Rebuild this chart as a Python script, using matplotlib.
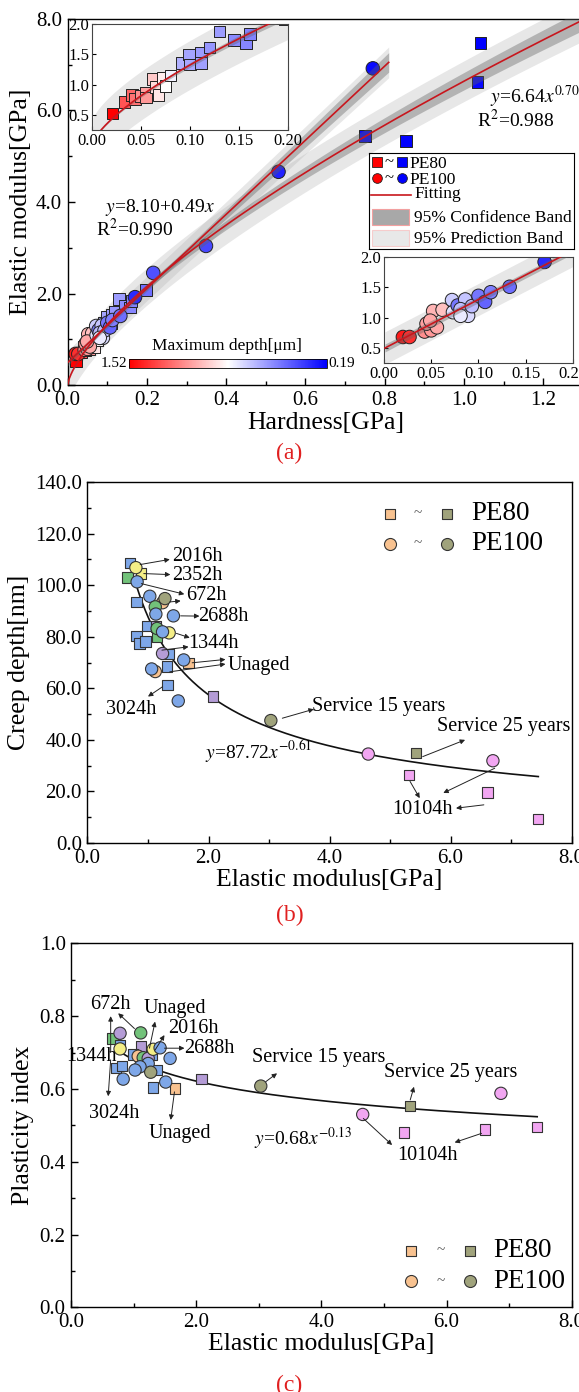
import numpy as np
import matplotlib
matplotlib.use("Agg")
import matplotlib.pyplot as plt
from matplotlib.colors import Normalize
from matplotlib.cm import ScalarMappable
from matplotlib.patches import Rectangle
from matplotlib.ticker import MultipleLocator, FormatStrFormatter

plt.rcParams['font.family'] = ['Liberation Serif', 'DejaVu Serif']
plt.rcParams['mathtext.fontset'] = 'stix'
plt.rcParams['axes.linewidth'] = 1.0

# (a) hardness / elastic modulus, coloured by maximum depth [um]
pe80_hard = [0.021, 0.033, 0.041, 0.044, 0.050, 0.055, 0.055, 0.062, 0.065, 0.068,
             0.072, 0.075, 0.080, 0.092, 0.099, 0.100, 0.111, 0.111, 0.120, 0.130,
             0.145, 0.157, 0.161, 0.197, 0.750, 0.853, 1.034, 1.042]
pe80_mod = [0.52, 0.71, 0.83, 0.76, 0.81, 0.86, 0.79, 1.09, 0.96, 0.83,
            1.11, 0.98, 1.15, 1.36, 1.50, 1.33, 1.53, 1.36, 1.61, 1.88,
            1.74, 1.69, 1.84, 2.08, 5.44, 5.33, 6.62, 7.47]
pe80_depth = [1.52, 1.30, 1.25, 1.22, 1.15, 1.10, 1.12, 1.00, 0.95, 0.92,
              0.90, 0.86, 0.82, 0.65, 0.62, 0.63, 0.60, 0.61, 0.58, 0.60,
              0.55, 0.54, 0.53, 0.48, 0.22, 0.20, 0.21, 0.19]

pe100_hard = [0.020, 0.027, 0.043, 0.050, 0.045, 0.052, 0.062, 0.056, 0.049, 0.072,
              0.073, 0.078, 0.086, 0.081, 0.089, 0.093, 0.100, 0.107, 0.113, 0.133,
              0.081, 0.170, 0.216, 0.349, 0.532, 0.770]
pe100_mod = [0.68, 0.68, 0.77, 0.79, 0.90, 1.11, 1.13, 0.84, 0.95, 1.29,
             1.09, 1.20, 1.30, 1.14, 1.03, 1.19, 1.36, 1.26, 1.42, 1.51,
             1.03, 1.92, 2.45, 3.04, 4.66, 6.92]
pe100_depth = [1.45, 1.40, 1.15, 1.12, 1.10, 1.05, 1.02, 1.08, 1.08, 0.72,
               0.78, 0.50, 0.70, 0.68, 0.76, 0.68, 0.50, 0.45, 0.52, 0.48,
               0.80, 0.30, 0.40, 0.38, 0.28, 0.22]

depth_max, depth_min = 1.52, 0.19
lin_slope, lin_icpt = 8.10, 0.49      # PE100: linear fit
pow_coef, pow_exp = 6.64, 0.70        # PE80: power fit

# (b) elastic modulus / creep depth
b_sq_mod = [0.70, 0.66, 0.885, 0.81, 0.81, 0.86, 0.96, 0.99, 1.13, 1.15,
            1.35, 1.31, 1.32, 1.67, 2.07, 5.43, 5.31, 6.61, 7.45]
b_sq_creep = [108.6, 103.0, 104.5, 93.5, 80.4, 77.4, 78.1, 84.1, 84.0, 80.0,
              73.3, 68.4, 61.3, 69.9, 56.8, 34.8, 26.5, 19.6, 9.4]
b_sq_col = ['blue', 'green', 'yellow', 'blue', 'blue', 'blue', 'blue', 'blue', 'purple', 'green',
            'blue', 'blue', 'blue', 'orange', 'purple', 'olive', 'pink', 'pink', 'pink']
b_ci_mod = [0.80, 0.82, 1.03, 1.24, 1.28, 1.12, 1.13, 1.42, 1.15, 1.35,
            1.24, 1.24, 1.59, 1.12, 1.06, 1.50, 3.03, 4.64, 6.70]
b_ci_creep = [106.8, 101.3, 95.7, 93.2, 94.8, 91.6, 88.8, 88.1, 83.2, 81.5,
              81.9, 73.5, 71.0, 66.5, 67.5, 55.1, 47.5, 34.5, 31.9]
b_ci_col = ['yellow', 'blue', 'blue', 'orange', 'olive', 'green', 'blue', 'blue', 'green', 'yellow',
            'blue', 'purple', 'blue', 'orange', 'blue', 'blue', 'olive', 'pink', 'pink']
creep_coef, creep_exp = 87.72, -0.61

# (c) elastic modulus / plasticity index
c_sq_mod = [0.66, 0.78, 1.12, 0.71, 0.81, 0.99, 1.29, 1.37, 1.31, 1.66,
            2.08, 5.42, 5.32, 6.61, 7.45]
c_sq_pi = [0.739, 0.721, 0.717, 0.657, 0.664, 0.695, 0.693, 0.652, 0.604, 0.601,
           0.628, 0.554, 0.480, 0.489, 0.496]
c_sq_col = ['green', 'blue', 'purple', 'blue', 'blue', 'blue', 'blue', 'blue', 'blue', 'orange',
            'purple', 'olive', 'pink', 'pink', 'pink']
c_ci_mod = [0.78, 1.11, 0.78, 1.07, 1.15, 1.23, 1.31, 1.42, 1.58, 1.23,
            1.10, 1.02, 1.27, 0.83, 1.51, 3.03, 4.66, 6.87]
c_ci_pi = [0.753, 0.754, 0.710, 0.690, 0.686, 0.684, 0.709, 0.713, 0.684, 0.670,
           0.661, 0.652, 0.646, 0.627, 0.619, 0.608, 0.530, 0.588]
c_ci_col = ['purple', 'green', 'yellow', 'orange', 'green', 'purple', 'yellow', 'blue', 'blue', 'blue',
            'blue', 'blue', 'olive', 'blue', 'blue', 'olive', 'pink', 'pink']
pi_coef, pi_exp = 0.68, -0.13

palette = {'blue': '#7ea7e8', 'green': '#72c27a', 'yellow': '#f4ee86', 'orange': '#f8c290',
           'purple': '#b49cd6', 'olive': '#a0a37c', 'pink': '#f2a6f2'}

fig = plt.figure(figsize=(5.79, 13.92), dpi=100)
cmap = plt.get_cmap('bwr')
norm = Normalize(vmin=depth_min, vmax=depth_max)
red_line = '#c8161d'


def style_ticks(ax, xmaj, ymaj, xfmt, yfmt, size):
    ax.xaxis.set_major_locator(MultipleLocator(xmaj))
    ax.xaxis.set_minor_locator(MultipleLocator(xmaj / 2))
    ax.yaxis.set_major_locator(MultipleLocator(ymaj))
    ax.yaxis.set_minor_locator(MultipleLocator(ymaj / 2))
    ax.xaxis.set_major_formatter(FormatStrFormatter(xfmt))
    ax.yaxis.set_major_formatter(FormatStrFormatter(yfmt))
    ax.tick_params(which='both', direction='in', top=False, right=False,
                   labelsize=size, width=1.0, pad=4)
    ax.tick_params(which='major', length=5)
    ax.tick_params(which='minor', length=3)


def lin_bands(x, y, xx):
    x = np.asarray(x); y = np.asarray(y)
    n = len(x)
    res = y - (lin_slope * x + lin_icpt)
    s = np.sqrt(np.sum(res ** 2) / (n - 2))
    xm = x.mean()
    sxx = np.sum((x - xm) ** 2)
    conf = 2.0 * s * np.sqrt(1.0 / n + (xx - xm) ** 2 / sxx)
    pred = 2.0 * s * np.sqrt(1.0 + 1.0 / n + (xx - xm) ** 2 / sxx)
    return lin_slope * xx + lin_icpt, conf, pred


def pow_bands(x, y, xx):
    z = np.asarray(x) ** pow_exp
    y = np.asarray(y)
    n = len(z)
    res = y - pow_coef * z
    s = np.sqrt(np.sum(res ** 2) / (n - 1))
    zz = xx ** pow_exp
    szz = np.sum(z ** 2)
    conf = 2.0 * s * zz / np.sqrt(szz)
    pred = 2.0 * s * np.sqrt(1.0 + zz ** 2 / szz)
    return pow_coef * zz, conf, pred


def draw_set(ax, which, xx, sq_size=70, ci_size=95):
    if which == 'pe80':
        hx, hy, dep, mk, sz, fn = pe80_hard, pe80_mod, pe80_depth, 's', sq_size, pow_bands
    else:
        hx, hy, dep, mk, sz, fn = pe100_hard, pe100_mod, pe100_depth, 'o', ci_size, lin_bands
    yy, conf, pred = fn(hx, hy, xx)
    ax.fill_between(xx, yy - pred, yy + pred, color='#b0b0b0', alpha=0.3, lw=0, zorder=1)
    ax.scatter(hx, hy, c=dep, cmap=cmap, norm=norm, marker=mk, s=sz,
               edgecolors='#222222', linewidths=0.7, zorder=2)
    ax.fill_between(xx, yy - conf, yy + conf, color='#606060', alpha=0.38, lw=0, zorder=3)
    ax.plot(xx, yy, color=red_line, lw=1.2, zorder=4)


# ---------------- panel (a) ----------------
ax = fig.add_axes([0.1168, 0.7234, 0.89, 0.2630])
draw_set(ax, 'pe80', np.linspace(0, 1.3, 300))
draw_set(ax, 'pe100', np.linspace(0, 0.81, 200))
ax.set_xlim(0, 1.3)
ax.set_ylim(0, 8)
style_ticks(ax, 0.2, 2.0, '%.1f', '%.1f', 15)
ax.set_xlabel('Hardness[GPa]', fontsize=18.5, labelpad=2)
ax.set_ylabel('Elastic modulus[GPa]', fontsize=18.5, labelpad=3)
ax.text(0.095, 3.89, r'$y$=8.10+0.49$x$', fontsize=14, va='center')
ax.text(0.072, 3.41, r'R$^2$=0.990', fontsize=14, va='center')
ax.text(1.066, 6.30, r'$y$=6.64$x^{0.70}$', fontsize=14, va='center')
ax.text(1.034, 5.79, r'R$^2$=0.988', fontsize=14, va='center')

# insets: PE80 (top left), PE100 (bottom right)
for rect, which in [([0.1589, 0.9066, 0.3385, 0.0761], 'pe80'),
                    ([0.6632, 0.7392, 0.3264, 0.0761], 'pe100')]:
    ins = fig.add_axes(rect)
    draw_set(ins, which, np.linspace(0.001, 0.25, 200))
    ins.set_xlim(0, 0.2)
    ins.set_ylim(0.25, 2.0)
    ins.xaxis.set_major_locator(MultipleLocator(0.05))
    ins.yaxis.set_major_locator(MultipleLocator(0.5))
    ins.xaxis.set_major_formatter(FormatStrFormatter('%.2f'))
    ins.yaxis.set_major_formatter(FormatStrFormatter('%.1f'))
    ins.tick_params(direction='in', length=3, labelsize=12, pad=2, width=0.8)
    for sp in ins.spines.values():
        sp.set_linewidth(0.8)
        sp.set_color('#444444')

# colour bar for maximum depth
cax = fig.add_axes([0.2228, 0.7356, 0.342, 0.0065])
cb = fig.colorbar(ScalarMappable(norm=norm, cmap=cmap), cax=cax, orientation='horizontal')
cb.ax.invert_xaxis()
cb.set_ticks([])
cb.outline.set_linewidth(0.6)
fig.text(0.3928, 0.7455, 'Maximum depth[\u03bcm]', fontsize=12.5, ha='center', va='bottom')
fig.text(0.2190, 0.7389, '1.52', fontsize=11, ha='right', va='center')
fig.text(0.5680, 0.7389, '0.19', fontsize=11, ha='left', va='center')

# legend box
lax = fig.add_axes([0.6373, 0.8211, 0.3541, 0.069])
lax.set_xlim(0, 1)
lax.set_ylim(0, 1)
lax.set_xticks([])
lax.set_yticks([])
for sp in lax.spines.values():
    sp.set_linewidth(0.8)
for yv, mk, lab in [(0.906, 's', 'PE80'), (0.743, 'o', 'PE100')]:
    lax.plot(0.040, yv, marker=mk, ms=7, color='red', mec='#222222', mew=0.6)
    lax.plot(0.160, yv, marker=mk, ms=7, color='blue', mec='#222222', mew=0.6)
    lax.text(0.10, yv, '~', fontsize=12, ha='center', va='center')
    lax.text(0.195, yv - 0.02, lab, fontsize=12.5, va='center')
lax.plot([0.008, 0.203], [0.562, 0.562], color=red_line, lw=1.2)
lax.text(0.220, 0.57, 'Fitting', fontsize=12.5, va='center')
lax.add_patch(Rectangle((0.013, 0.245), 0.182, 0.175, facecolor='#a8a8a8', edgecolor='#f2a0a0', lw=0.8))
lax.text(0.220, 0.325, '95% Confidence Band', fontsize=12.5, va='center')
lax.add_patch(Rectangle((0.013, 0.027), 0.182, 0.176, facecolor='#e8e8e8', edgecolor='#f6cccc', lw=0.8))
lax.text(0.220, 0.105, '95% Prediction Band', fontsize=12.5, va='center')

fig.text(0.5, 0.6746, '(a)', color='#e02020', fontsize=17, ha='center', va='center')


def draw_groups(ax, xs, ys, cols, marker, size):
    ax.scatter(xs, ys, c=[palette[k] for k in cols], marker=marker, s=size,
               edgecolors='#333333', linewidths=0.8, zorder=3)


def arrow(ax, x0, y0, x1, y1):
    ax.annotate('', xy=(x1, y1), xytext=(x0, y0),
                arrowprops=dict(arrowstyle='-|>', lw=0.7, color='#222222',
                                mutation_scale=7, shrinkA=0, shrinkB=0), zorder=5)


def small_legend(ax, xs, ys, tx):
    for yv, mk, lab in [(ys[0], 's', 'PE80'), (ys[1], 'o', 'PE100')]:
        sz = 75 if mk == 'o' else 60
        ax.scatter([xs[0]], [yv], transform=ax.transAxes, marker=mk, s=sz,
                   color=palette['orange'], edgecolors='#333333', linewidths=0.8, clip_on=False)
        ax.scatter([xs[1]], [yv], transform=ax.transAxes, marker=mk, s=sz,
                   color=palette['olive'], edgecolors='#333333', linewidths=0.8, clip_on=False)
        ax.text((xs[0] + xs[1]) / 2, yv, '~', transform=ax.transAxes, fontsize=11,
                color='#555555', ha='center', va='center')
        ax.text(tx, yv, lab, transform=ax.transAxes, fontsize=19.5, va='center')


# ---------------- panel (b) ----------------
bx = fig.add_axes([0.1511, 0.3944, 0.8361, 0.2593])
xf = np.linspace(0.78, 7.45, 300)
bx.plot(xf, creep_coef * xf ** creep_exp, color='#111111', lw=1.2, zorder=2)
draw_groups(bx, b_sq_mod, b_sq_creep, b_sq_col, 's', 55)
draw_groups(bx, b_ci_mod, b_ci_creep, b_ci_col, 'o', 78)
bx.set_xlim(0, 8)
bx.set_ylim(0, 140)
style_ticks(bx, 2.0, 20.0, '%.1f', '%.1f', 15)
bx.set_xlabel('Elastic modulus[GPa]', fontsize=18.5, labelpad=1)
bx.set_ylabel('Creep depth[nm]', fontsize=18.5, labelpad=4)

b_labels = [('2016h', 1.81, 111.0), ('2352h', 1.82, 103.9), ('672h', 1.97, 96.1),
            ('2688h', 2.25, 87.7), ('1344h', 2.09, 77.4), ('Unaged', 2.83, 69.0),
            ('3024h', 0.72, 51.6), ('Service 15 years', 4.81, 52.9),
            ('Service 25 years', 6.88, 45.2), ('10104h', 5.54, 12.9)]
for t, x, y in b_labels:
    bx.text(x, y, t, fontsize=14.5, ha='center', va='center', zorder=6)
b_arrows = [(0.87, 108.0, 1.36, 110.0), (0.93, 104.5, 1.37, 104.1), (0.89, 100.6, 1.60, 96.5),
            (1.36, 93.5, 1.54, 93.9), (1.54, 88.1, 1.85, 88.0), (1.47, 81.3, 1.69, 79.6),
            (1.23, 74.8, 1.67, 76.1), (1.73, 69.9, 2.28, 71.2), (1.36, 66.4, 2.28, 69.4),
            (1.24, 60.6, 1.00, 56.8), (3.22, 48.4, 3.74, 51.9), (5.54, 33.5, 6.24, 40.0),
            (5.33, 23.9, 5.49, 17.4), (6.73, 29.0, 5.88, 19.4), (6.55, 14.8, 6.09, 13.5)]
for a in b_arrows:
    arrow(bx, *a)
bx.text(2.83, 35.5, r'$y$=87.72$x^{-0.61}$', fontsize=14, ha='center', va='center')
small_legend(bx, (0.624, 0.742), (0.912, 0.829), 0.792)
fig.text(0.5, 0.3427, '(b)', color='#e02020', fontsize=17, ha='center', va='center')

# ---------------- panel (c) ----------------
cx = fig.add_axes([0.1231, 0.0608, 0.8641, 0.2615])
cx.plot(xf, pi_coef * xf ** pi_exp, color='#111111', lw=1.2, zorder=2)
draw_groups(cx, c_sq_mod, c_sq_pi, c_sq_col, 's', 55)
draw_groups(cx, c_ci_mod, c_ci_pi, c_ci_col, 'o', 78)
cx.set_xlim(0, 8)
cx.set_ylim(0, 1.0)
style_ticks(cx, 2.0, 0.2, '%.1f', '%.1f', 15)
cx.set_xlabel('Elastic modulus[GPa]', fontsize=18.5, labelpad=1)
cx.set_ylabel('Plasticity index', fontsize=18.5, labelpad=4)

c_labels = [('672h', 0.63, 0.833), ('Unaged', 1.65, 0.821), ('2016h', 1.96, 0.766),
            ('2688h', 2.21, 0.712), ('1344h', 0.32, 0.689), ('3024h', 0.68, 0.533),
            ('Unaged', 1.74, 0.478), ('Service 15 years', 3.95, 0.687),
            ('Service 25 years', 6.07, 0.646), ('10104h', 5.69, 0.418)]
for t, x, y in c_labels:
    cx.text(x, y, t, fontsize=14.5, ha='center', va='center', zorder=6)
c_arrows = [(0.63, 0.70, 0.63, 0.80), (1.01, 0.766, 0.75, 0.808), (1.25, 0.712, 1.34, 0.785),
            (1.34, 0.707, 1.49, 0.748), (1.49, 0.712, 1.81, 0.712), (0.63, 0.68, 0.59, 0.58),
            (1.65, 0.592, 1.59, 0.515), (3.11, 0.620, 3.29, 0.643), (5.42, 0.570, 5.48, 0.606),
            (4.67, 0.519, 5.13, 0.446), (6.56, 0.478, 6.13, 0.453)]
for a in c_arrows:
    arrow(cx, *a)
cx.text(3.71, 0.464, r'$y$=0.68$x^{-0.13}$', fontsize=14, ha='center', va='center')
small_legend(cx, (0.680, 0.796), (0.156, 0.072), 0.844)
fig.text(0.5, 0.005, '(c)', color='#e02020', fontsize=17, ha='center', va='center')

fig.savefig('out.png', dpi=100)
